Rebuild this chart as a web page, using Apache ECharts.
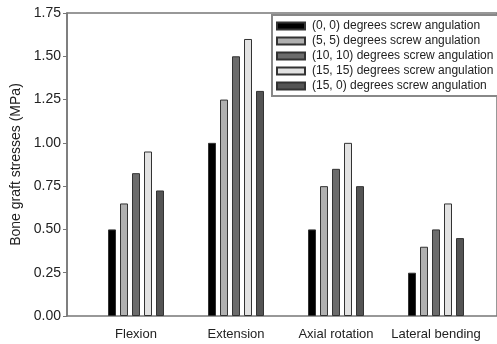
<!DOCTYPE html>
<html>
<head>
<meta charset="utf-8">
<script src="https://cdn.jsdelivr.net/npm/echarts@6/dist/echarts.min.js"></script>
<style>
  html, body { margin: 0; padding: 0; background: #fff; }
  #chart { width: 497px; height: 344px; }
</style>
</head>
<body>
<div id="chart"></div>
<script>
const categories = ['Flexion', 'Extension', 'Axial rotation', 'Lateral bending']
const seriesNames = [
  '(0, 0) degrees screw angulation',
  '(5, 5) degrees screw angulation',
  '(10, 10) degrees screw angulation',
  '(15, 15) degrees screw angulation',
  '(15, 0) degrees screw angulation'
]
const angle00 = [0.5, 1.0, 0.5, 0.25]
const angle55 = [0.65, 1.25, 0.75, 0.4]
const angle1010 = [0.825, 1.5, 0.85, 0.5]
const angle1515 = [0.95, 1.6, 1.0, 0.65]
const angle150 = [0.725, 1.3, 0.75, 0.45]
const yTicks = [0, 0.25, 0.5, 0.75, 1.0, 1.25, 1.5, 1.75]

const colors = ['#000000', '#b0b0b0', '#6c6c6c', '#e2e2e2', '#545454']
const values = [angle00, angle55, angle1010, angle1515, angle150]

let myChart = echarts.init(document.getElementById('chart'))
myChart.setOption({
  animation: false,
  textStyle: { fontFamily: 'Liberation Sans, Arial, sans-serif', color: '#222' },
  grid: [
    // bars
    { left: 86, width: 400, top: 13, bottom: 28 },
    // frame
    { left: 67, right: -3, top: 13, bottom: 28, show: true, borderColor: '#777', borderWidth: 1.5 }
  ],
  legend: {
    orient: 'vertical',
    left: 272,
    top: 15,
    padding: [5, 40, 4, 4],
    icon: 'rect',
    itemWidth: 28,
    itemHeight: 7,
    itemGap: 3,
    borderColor: '#888',
    borderWidth: 2,
    backgroundColor: '#fff',
    textStyle: { fontSize: 12, color: '#222', padding: [0, 0, 0, 2] },
    data: seriesNames
  },
  xAxis: [
    {
      type: 'category',
      gridIndex: 0,
      data: categories,
      axisLine: { show: false },
      axisTick: { show: false },
      axisLabel: { interval: 0, fontSize: 13, color: '#222', margin: 12 }
    },
    {
      type: 'category',
      gridIndex: 1,
      data: categories,
      show: false
    }
  ],
  yAxis: [
    {
      type: 'value',
      gridIndex: 0,
      min: 0,
      max: 1.75,
      interval: 0.25,
      show: false
    },
    {
      type: 'value',
      gridIndex: 1,
      min: 0,
      max: 1.75,
      interval: 0.25,
      name: 'Bone graft stresses (MPa)',
      nameLocation: 'middle',
      nameGap: 41,
      nameTextStyle: { fontSize: 14, color: '#222' },
      axisLine: { show: true, lineStyle: { color: '#777', width: 1.5 } },
      axisTick: { show: true, length: 4, lineStyle: { color: '#777' } },
      splitLine: { show: false },
      axisLabel: {
        fontSize: 14,
        color: '#222',
        margin: 6,
        formatter: v => yTicks.includes(v) ? v.toFixed(2) : ''
      }
    }
  ],
  series: values.map((d, i) => ({
    type: 'bar',
    name: seriesNames[i],
    xAxisIndex: 0,
    yAxisIndex: 0,
    barWidth: 8,
    barGap: '50%',
    itemStyle: { color: colors[i], borderColor: '#333', borderWidth: 1 },
    data: d
  }))
})
</script>
</body>
</html>
